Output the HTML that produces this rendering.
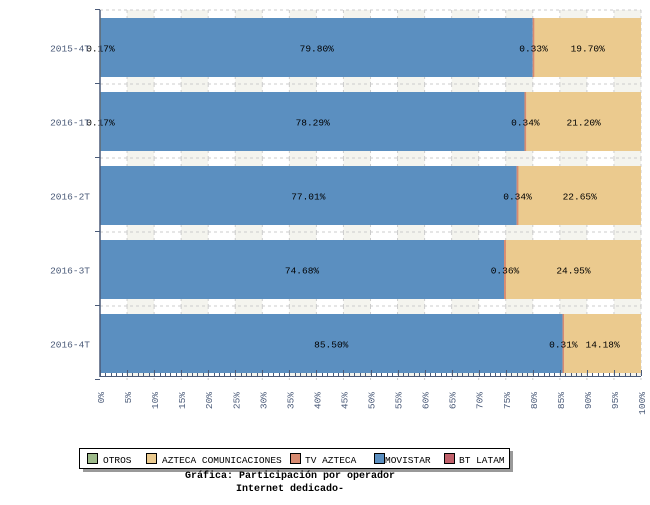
<!DOCTYPE html>
<html><head><meta charset="utf-8"><style>
body{margin:0;background:#fff;width:650px;height:500px;overflow:hidden}
svg text{font-family:"Liberation Mono","DejaVu Sans Mono",monospace;font-size:9.5px}
</style></head><body>
<svg width="650" height="500" xmlns="http://www.w3.org/2000/svg">
<g id="bg"></g>
<g id="bars"></g>
<g id="ax"></g>
<g id="leg">
<rect x="83" y="451" width="430" height="21" fill="#999"/>
<rect x="79.5" y="448.5" width="430" height="20" fill="#fff" stroke="#000"/>
<rect x="87.5" y="453.5" width="10" height="10" fill="#9dba8a" stroke="#000"/>
<text x="103" y="463">OTROS</text>
<rect x="146.5" y="453.5" width="10" height="10" fill="#ebca8e" stroke="#000"/>
<text x="162" y="463">AZTECA COMUNICACIONES</text>
<rect x="290.5" y="453.5" width="10" height="10" fill="#d78a70" stroke="#000"/>
<text x="305" y="463">TV AZTECA</text>
<rect x="374.5" y="453.5" width="10" height="10" fill="#5b8fc0" stroke="#000"/>
<text x="385" y="463">MOVISTAR</text>
<rect x="444.5" y="453.5" width="10" height="10" fill="#c0606a" stroke="#000"/>
<text x="459" y="463">BT LATAM</text>
<text x="290" y="478" text-anchor="middle" font-weight="bold" style="font-size:10px">Gráfica: Participación por operador</text>
<text x="290" y="491" text-anchor="middle" font-weight="bold" style="font-size:10px">Internet dedicado-</text>
</g>
</svg>
<script>
const bg=document.getElementById('bg'),bars=document.getElementById('bars'),ax=document.getElementById('ax');
let s='';
const X=p=>100+p*5.41;
for(let i=1;i<20;i+=2)s+=`<rect x="${X(i*5)}" y="10" width="${5.41*5}" height="366" fill="#f4f4ee"/>`;
for(let b=0;b<5;b++){let y=10+b*74;s+=`<line x1="100" x2="641" y1="${y}" y2="${y}" stroke="#ccc" stroke-dasharray="3,3"/>`;
for(let i=1;i<=20;i++)s+=`<line x1="${X(i*5)}" x2="${X(i*5)}" y1="${y}" y2="${y+74}" stroke="#ccc" stroke-dasharray="3,3"/>`;}
bg.innerHTML=s;
const d=[["2015-4T",0.17,79.80,0.33,19.70],["2016-1T",0.17,78.29,0.34,21.20],["2016-2T",0,77.01,0.34,22.65],["2016-3T",0,74.68,0.36,24.95],["2016-4T",0,85.50,0.31,14.18]];
s='';
d.forEach((r,b)=>{let y=18+b*74,h=59,cy=y+h/2+4;let x=0;
const seg=(v,c)=>{let w=v*5.41;s+=`<rect x="${X(x)}" y="${y}" width="${w}" height="${h}" fill="${c}"/>`;let m=X(x)+w/2;x+=v;return m;};
let m0=seg(r[1],'#9dba8a');let m1=seg(r[2],'#5b8fc0');let m2=seg(r[3],'#d78a70');let m3=seg(100-r[1]-r[2]-r[3],'#ebca8e');
if(r[1])s+=`<text x="${m0}" y="${cy}" text-anchor="middle">${r[1].toFixed(2)}%</text>`;
s+=`<text x="${m1}" y="${cy}" text-anchor="middle">${r[2].toFixed(2)}%</text>`;
s+=`<text x="${m2}" y="${cy}" text-anchor="middle">${r[3].toFixed(2)}%</text>`;
s+=`<text x="${m3}" y="${cy}" text-anchor="middle">${r[4].toFixed(2)}%</text>`;
s+=`<text x="90" y="${cy}" text-anchor="end" fill="#4a5a78">${r[0]}</text>`;});
bars.innerHTML=s;
s=`<line x1="100" y1="10" x2="100" y2="377" stroke="#4a5a78" stroke-width="1.5"/><line x1="100" y1="376.5" x2="641" y2="376.5" stroke="#4a5a78"/>`;
for(let b=0;b<=5;b++){let y=10+b*74-0.5;s+=`<line x1="95" x2="100" y1="${y}" y2="${y}" stroke="#4a5a78"/>`;}
for(let i=0;i<=100;i++){let x=Math.round(X(i))+0.5;s+=`<line x1="${x}" x2="${x}" y1="${i%5?373:370}" y2="376" stroke="#4a5a78"/>`;}
for(let i=0;i<=100;i+=5){let x=X(i)+4;s+=`<text transform="translate(${x},392) rotate(-90)" text-anchor="end" fill="#4a5a78">${i}%</text>`;}
ax.innerHTML=s;
</script>
</body></html>
